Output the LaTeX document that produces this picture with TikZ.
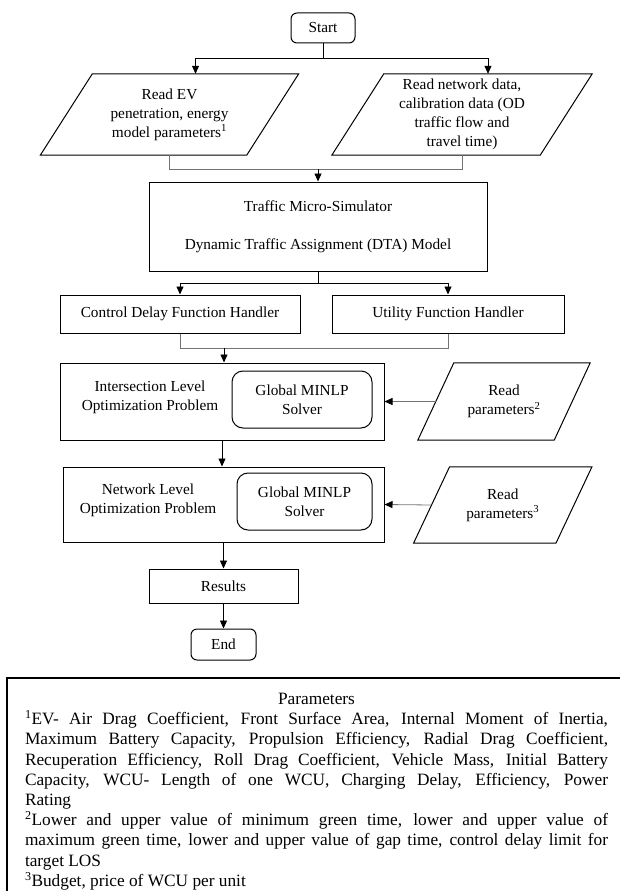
\documentclass[tikz,border=0pt]{standalone}
\usepackage{fontspec}
\setmainfont{Liberation Serif}
\usetikzlibrary{arrows.meta}
\newcommand{\flowfont}{\fontsize{15.3}{19}\selectfont}
\newcommand{\notefont}{\fontsize{17.3}{20.2}\selectfont}

\begin{document}
\begin{tikzpicture}[x=1pt,y=-1pt,
    every node/.style={font=\flowfont,align=center,inner sep=0pt},
    proc/.style={draw,line width=1pt},
    term/.style={draw,line width=1pt,rounded corners=6pt},
    solver/.style={draw,line width=1pt,rounded corners=11pt},
    flow/.style={line width=0.8pt,-{Triangle[length=8pt,width=7pt]}},
    merge/.style={line width=0.8pt,draw=black!55},
    feed/.style={line width=0.8pt,draw=black!55,-{Triangle[length=8pt,width=7pt,color=black]}}]
    \useasboundingbox (0,0) rectangle (619,891);

    \node[term,minimum width=64pt,minimum height=30pt] (start) at (323,28) {Start};
    \node[minimum width=206pt,minimum height=81pt] (readev) at (169.5,114.5)
        {Read EV\\penetration, energy\\model parameters\textsuperscript{1}};
    \node[minimum width=208pt,minimum height=81pt] (readnet) at (462,114.5)
        {Read network data,\\calibration data (OD\\traffic flow and\\travel time)};
    \node[proc,minimum width=338pt,minimum height=89pt] (dta) at (318,226.5)
        {Traffic Micro-Simulator\\[19pt]Dynamic Traffic Assignment (DTA) Model};
    \node[proc,minimum width=240pt,minimum height=38pt] (delay) at (180,314) {Control Delay Function Handler};
    \node[proc,minimum width=232pt,minimum height=38pt] (utility) at (448,314) {Utility Function Handler};

    \node[proc,minimum width=324pt,minimum height=77pt] (isect) at (222,401.5) {};
    \node (isecttxt) at (150,397.5) {Intersection Level\\Optimization Problem};
    \node[solver,minimum width=140pt,minimum height=57pt] (solvea) at (302,399.5) {Global MINLP\\Solver};
    \node[minimum width=136pt,minimum height=77pt] (readpa) at (504,401.5) {Read\\parameters\textsuperscript{2}};

    \node[proc,minimum width=321pt,minimum height=75pt] (net) at (223.5,504.5) {};
    \node (nettxt) at (148,500.5) {Network Level\\Optimization Problem};
    \node[solver,minimum width=135pt,minimum height=57pt] (solveb) at (304.5,501.5) {Global MINLP\\Solver};
    \node[minimum width=142pt,minimum height=76pt] (readpb) at (502.75,505) {Read\\parameters\textsuperscript{3}};

    \node[proc,minimum width=149pt,minimum height=34pt] (results) at (223.5,586) {Results};
    \node[term,minimum width=65pt,minimum height=31pt] (end) at (223.5,644.5) {End};

    % slanted input boxes
    \foreach \n/\s in {readev/26,readnet/26,readpa/18,readpb/18}
        \draw[line width=1pt] ([xshift=\s pt]\n.north west) -- ([xshift=\s pt]\n.north east)
            -- ([xshift=-\s pt]\n.south east) -- ([xshift=-\s pt]\n.south west) -- cycle;

    \coordinate (m1) at (318,169);
    \coordinate (m2) at (224,348);

    \draw[flow] (start.south) -- ++(0,15) -| ([xshift=26pt]readev.north);
    \draw[flow] (start.south) -- ++(0,15) -| ([xshift=26pt]readnet.north);
    \draw[merge] (readev.south) -- ++(0,14) -| (readnet.south);
    \draw[flow] (m1) -- (dta.north);
    \draw[flow] (dta.south) -- ++(0,12) -| (delay.north);
    \draw[flow] (dta.south) -- ++(0,12) -| (utility.north);
    \draw[merge] (delay.south) -- ++(0,15) -| (utility.south);
    \draw[flow] (m2) -- (m2 |- isect.north);
    \draw[flow] (isect.south) -- (isect.south |- net.north);
    \draw[feed] (readpa.west) -- (isect.east);
    \draw[feed] (readpb.west) -- (net.east);
    \draw[flow] (net.south) -- (results.north);
    \draw[flow] (results) -- (end);

    % notes
    \draw[line width=1.6pt] (7,678) rectangle (660,930);
    \node[font=\notefont,text width=583pt,align=justify,anchor=north] (params) at (316.5,693)
        {\centerline{Parameters}
        \textsuperscript{1}EV- Air Drag Coefficient, Front Surface Area, Internal Moment of Inertia,\linebreak
        Maximum Battery Capacity, Propulsion Efficiency, Radial Drag Coefficient,\linebreak
        Recuperation Efficiency, Roll Drag Coefficient, Vehicle Mass, Initial Battery\linebreak
        Capacity, WCU- Length of one WCU, Charging Delay, Efficiency, Power\linebreak
        Rating\par
        \textsuperscript{2}Lower and upper value of minimum green time, lower and upper value of\linebreak
        maximum green time, lower and upper value of gap time, control delay limit for\linebreak
        target LOS\par
        \textsuperscript{3}Budget, price of WCU per unit};
\end{tikzpicture}
\end{document}
